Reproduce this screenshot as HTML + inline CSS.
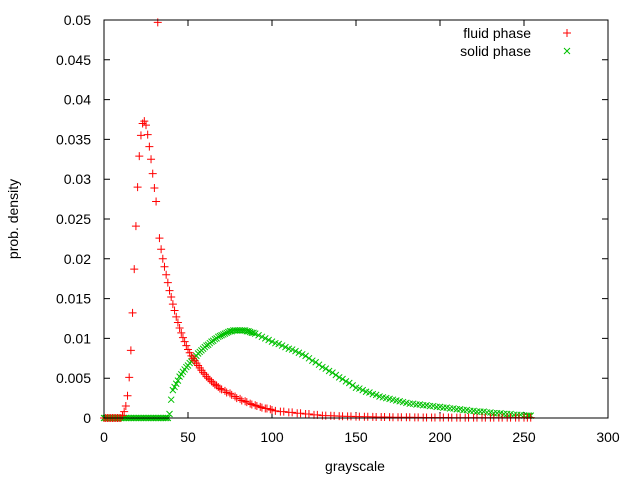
<!DOCTYPE html>
<html><head><meta charset="utf-8"><style>
body{margin:0;background:#fff;}
svg text{font-family:"Liberation Sans",sans-serif;font-size:14px;fill:#000;}
</style></head><body>
<svg id="chart" width="640" height="480" xmlns="http://www.w3.org/2000/svg">
<rect x="0" y="0" width="640" height="480" fill="#fff"/>
<g id="grid"></g>
<g id="marks"></g>
<rect x="104" y="20" width="504" height="398" fill="none" stroke="#000" stroke-width="1"/>
<text x="355" y="471" text-anchor="middle">grayscale</text>
<text x="18" y="219" text-anchor="middle" transform="rotate(-90 18 219)">prob. density</text>
<g>
<text x="531" y="38" text-anchor="end">fluid phase</text>
<text x="531" y="56" text-anchor="end">solid phase</text>
<path d="M563 33h8M567 29v8" stroke="#ff0000"/>
<path d="M564 48l6 6M570 48l-6 6" stroke="#00c000"/>
</g>
</svg>
<script>
const xTicks=[0,50,100,150,200,250,300];
const yTicks=[0,0.005,0.01,0.015,0.02,0.025,0.03,0.035,0.04,0.045,0.05];
const yTickLabels=["0","0.005","0.01","0.015","0.02","0.025","0.03","0.035","0.04","0.045","0.05"];
const fluidX=[0,1,2,3,4,5,6,7,8,9,10,11,12,13,14,15,16,17,18,19,20,21,22,23,24,25,26,27,28,29,30,31,32,33,34,35,36,37,38,39,40,41,42,43,44,45,46,47,48,49,50,51,52,53,54,55,56,57,58,59,60,61,62,63,64,65,66,67,68,69,70,72,73,75,76,78,79,81,82,84,85,87,88,90,91,93,94,96,97,99,100,102,105,107,110,112,115,117,120,122,125,127,130,132,135,137,140,142,145,147,150,152,155,157,160,162,165,167,170,172,175,177,180,182,185,187,190,192,195,197,200,202,205,207,210,212,215,217,220,222,225,227,230,232,235,237,240,242,245,247,250,252,254];
const fluidY=[0,0,0,0,0,0,0,0,0,0,0,0.0003,0.0008,0.0015,0.0028,0.0051,0.0085,0.0132,0.0187,0.0241,0.029,0.0329,0.0355,0.037,0.0373,0.0368,0.0356,0.0341,0.0325,0.0307,0.0289,0.0272,0.0497,0.0226,0.0212,0.02,0.019,0.018,0.017,0.016,0.0152,0.0143,0.0135,0.0127,0.012,0.0113,0.0107,0.0101,0.0096,0.0091,0.0086,0.0082,0.0078,0.0075,0.0072,0.0069,0.0066,0.0063,0.006,0.0057,0.0055,0.0052,0.005,0.0048,0.0046,0.0044,0.0042,0.0041,0.0039,0.0037,0.0036,0.0034,0.0032,0.0031,0.0029,0.0027,0.0025,0.0024,0.0022,0.0021,0.002,0.0018,0.0017,0.0016,0.0015,0.0014,0.0013,0.0012,0.0012,0.0011,0.001,0.0009,0.0008,0.0008,0.0007,0.0007,0.0006,0.0006,0.0005,0.0005,0.0004,0.0004,0.0003,0.0003,0.00028,0.00026,0.00024,0.00022,0.0002,0.0002,0.00018,0.00017,0.00016,0.00015,0.00014,0.00013,0.00012,0.00012,0.00011,0.0001,0.0001,0.0001,0.00009,0.00009,0.00008,0.00008,0.00007,0.00007,0.00007,0.00006,0.00006,0.00006,0.00006,0.00005,0.00005,0.00005,0.00005,0.00005,0.00005,0.00005,0.00005,0.00004,0.00004,0.00004,0.00004,0.00004,0.00004,0.00004,0.00004,0.00004,0.00004,0.00004,0.00004,0.00004,0.00004];
const solidX=[0,1,2,3,4,5,6,7,8,9,10,11,12,13,14,15,16,17,18,19,20,21,22,23,24,25,26,27,28,29,30,31,32,33,34,35,36,37,38,39,40,41,42,43,44,45,46,47,48,49,50,51,52,53,54,55,56,57,58,59,60,61,62,63,64,65,66,67,68,69,70,71,72,73,74,75,76,77,78,79,80,81,82,83,84,85,86,87,88,89,90,92,94,96,98,100,102,104,106,108,110,112,114,116,118,120,122,124,126,128,130,132,134,136,138,140,142,144,146,148,150,152,154,156,158,160,162,164,166,168,170,172,174,176,178,180,182,184,186,188,190,192,194,196,198,200,202,204,206,208,210,212,214,216,218,220,222,224,226,228,230,232,234,236,238,240,242,244,246,248,250,252,253,254];
const solidY=[0,0,0,0,0,0,0,0,0,0,0,0,0,0,0,0,0,0,0,0,0,0,0,0,0,0,0,0,0,0,0,0,0,0,0,0,0,0,0,0.0005,0.0023,0.0035,0.0039,0.0043,0.0047,0.0052,0.0055,0.0058,0.0061,0.0064,0.0066,0.0069,0.0071,0.0074,0.0076,0.0078,0.0081,0.0083,0.0085,0.0087,0.0089,0.0091,0.0092,0.0094,0.0096,0.0097,0.0099,0.01,0.0102,0.0103,0.0104,0.0105,0.0106,0.0107,0.0108,0.0109,0.0109,0.011,0.011,0.011,0.011,0.011,0.011,0.011,0.011,0.0109,0.0109,0.0108,0.0107,0.0107,0.0106,0.0104,0.0102,0.01,0.0098,0.0096,0.0094,0.0093,0.0091,0.0089,0.0087,0.0086,0.0084,0.0082,0.008,0.0078,0.0075,0.0072,0.007,0.0067,0.0064,0.0062,0.0059,0.0057,0.0054,0.0051,0.0049,0.0046,0.0044,0.0041,0.0038,0.0037,0.0035,0.0033,0.0032,0.003,0.0029,0.0027,0.0026,0.0025,0.0024,0.0023,0.0022,0.0021,0.002,0.0019,0.0018,0.0018,0.0017,0.0017,0.0016,0.0016,0.0015,0.0015,0.0014,0.0014,0.0013,0.0013,0.0012,0.0012,0.0011,0.0011,0.001,0.001,0.0009,0.0009,0.0008,0.0008,0.0008,0.0007,0.0007,0.0006,0.0006,0.0006,0.0005,0.0005,0.0005,0.0004,0.0004,0.0004,0.0003,0.0003,0.0003,0.0003,0.0002,0.0002,0.0023];
const NS="http://www.w3.org/2000/svg";
const sx=v=>104+v*504/300;
const sy=v=>418-v*398/0.05;
const grid=document.getElementById('grid');
const marks=document.getElementById('marks');
function mk(tag,attrs,parent){const e=document.createElementNS(NS,tag);for(const k in attrs)e.setAttribute(k,attrs[k]);parent.appendChild(e);return e;}
xTicks.forEach((t)=>{
  const x=sx(t);
  const tk=mk('path',{d:`M${x} 418v-6M${x} 20v6`,stroke:'#000'},grid);
  
  
  const lb=mk('text',{x:x,y:442,'text-anchor':'middle'},grid);
  lb.textContent=String(t);
  
  
});
yTicks.forEach((t,i)=>{
  const y=sy(t);
  const tk=mk('path',{d:`M104 ${y}h6M608 ${y}h-6`,stroke:'#000'},grid);
  
  
  const lb=mk('text',{x:91,y:y+5,'text-anchor':'end'},grid);
  lb.textContent=yTickLabels[i];
  
  
});
let d1='';
fluidX.forEach((v,i)=>{const x=sx(v),y=sy(fluidY[i]);d1+=`M${x-4} ${y}h8M${x} ${y-4}v8`;});
let d2='';
solidX.forEach((v,i)=>{const x=sx(v),y=sy(solidY[i]);d2+=`M${x-3} ${y-3}l6 6M${x+3} ${y-3}l-6 6`;});
const s2=mk('path',{d:d2,stroke:'#00c000',fill:'none'},marks);


const s1=mk('path',{d:d1,stroke:'#ff0000',fill:'none'},marks);


</script>
</body></html>
